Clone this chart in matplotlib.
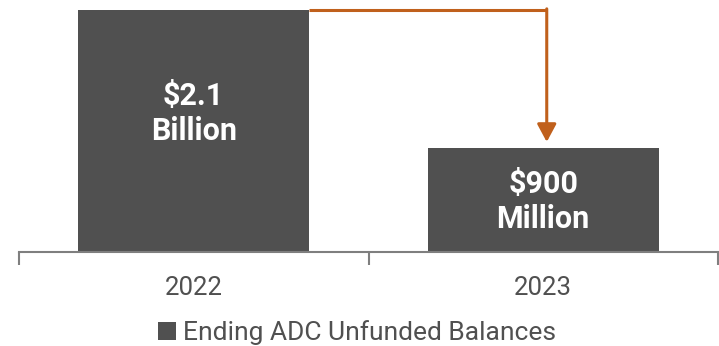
import matplotlib
matplotlib.use("Agg")
import matplotlib.pyplot as plt
from matplotlib.patches import FancyArrowPatch

plt.rcParams['font.family'] = ['Roboto', 'DejaVu Sans']

# Data
years = ["2022", "2023"]
balances = [2.1, 0.9]  # $ billions
value_labels = ["$2.1\nBillion", "$900\nMillion"]
series_name = "Ending ADC Unfunded Balances"

# Styling / placement
bar_color = "#505050"
arrow_color = "#C0601C"
axis_color = "#7f7f7f"
text_color = "#505050"
label_y = [1.2, 0.44]

fig = plt.figure(figsize=(7.19, 3.46), dpi=100)
ax = fig.add_axes([19/719, 1 - 252/346, 699/719, 242/346])

x = list(range(len(years)))
bars = ax.bar(x, balances, width=0.66, color=bar_color, label=series_name, zorder=2)

ax.set_xlim(-0.5, len(years) - 0.5)
ax.set_ylim(0, max(balances))

for xi, lab, ly in zip(x, value_labels, label_y):
    ax.text(xi, ly, lab, ha="center", va="center", color="white",
            fontsize=22, fontweight="bold", linespacing=1.22, zorder=3)

# Connector arrow from the 2022 bar top down to the 2023 bar
x0 = x[0] + 0.33
x1 = x[1] + 0.01
ax.plot([x0, x1], [balances[0], balances[0]], color=arrow_color, lw=2.2,
        solid_capstyle="butt", clip_on=False, zorder=4)
arrow = FancyArrowPatch((x1, balances[0] + 0.01), (x1, balances[1] + 0.055),
                        arrowstyle="-|>,head_length=1.08,head_width=0.58",
                        mutation_scale=10, color=arrow_color, lw=2.2,
                        shrinkA=0, shrinkB=0, clip_on=False, zorder=4)
ax.add_patch(arrow)

# Axes: only a bottom category axis with boundary ticks
for side in ("left", "right", "top"):
    ax.spines[side].set_visible(False)
ax.spines["bottom"].set_color(axis_color)
ax.spines["bottom"].set_linewidth(1.5)
ax.set_yticks([])
ax.set_xticks([-0.5, 0.5, 1.5])
ax.set_xticklabels([])
ax.tick_params(axis="x", which="major", length=9, width=1.5, color=axis_color)
ax.set_xticks(x, minor=True)
ax.set_xticklabels(years, minor=True)
ax.tick_params(axis="x", which="minor", length=0, pad=17, labelsize=18.5,
               labelcolor=text_color)

fig.legend(handles=[bars], labels=[series_name], loc="center",
           bbox_to_anchor=(357/719, 1 - 333/346), frameon=False,
           fontsize=19, labelcolor=text_color, handlelength=0.66,
           handleheight=0.7, handletextpad=0.25, borderpad=0)

fig.savefig("out.png", dpi=100)
